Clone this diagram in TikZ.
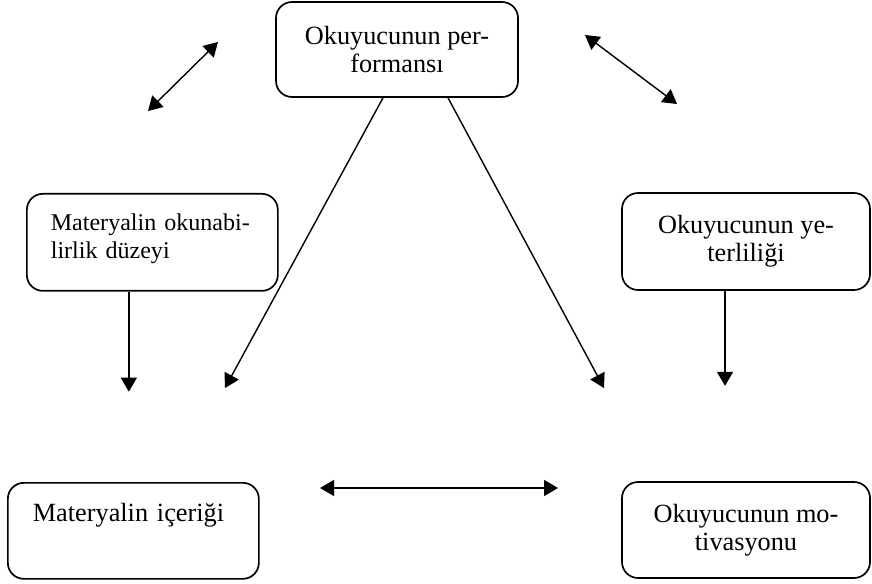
\documentclass[tikz,border=0pt]{standalone}
\usepackage{fontspec}
\setmainfont{Liberation Serif}
\usetikzlibrary{arrows.meta}

\begin{document}
\begin{tikzpicture}[line width=1pt,
        box/.style = {draw, rounded corners=0.4cm,
            line width=1.2pt, inner sep=0pt,
            align=center,
            minimum width=6.2cm,
            font=\fontsize{18.7}{20}\selectfont},
        leftbox/.style = {box, anchor=north west,
            align=left, minimum width=0cm,
            inner xsep=0.6cm, text width=5.075cm},
        arr/.style = {-{Triangle[length=0.35cm,width=0.4cm]}},
        twoway/.style = {{Triangle[length=0.35cm,width=0.4cm]}-{Triangle[length=0.35cm,width=0.4cm]}}]

    \useasboundingbox (0,0) rectangle (21.8,14.575);

    % Top box
    \node[box, minimum width=6.05cm, minimum height=2.375cm]
        (perf) at (9.925,13.3375) {Okuyucunun per-\\formansı};

    % Left box
    \node[leftbox, text height=0.925cm, text depth=1.5cm,
        font=\fontsize{17.1}{20}\selectfont]
        (okun) at (0.65,9.75) {Materyalin okunabi-\\lirlik düzeyi};

    % Right box
    \node[box, minimum height=2.425cm]
        (yet) at (18.65,8.5375) {Okuyucunun ye-\\terliliği};

    % Bottom left box
    \node[leftbox, text width=5.025cm, inner xsep=0.625cm,
        text height=0.975cm, text depth=1.425cm]
        (icer) at (0.175,2.525) {Materyalin içeriği};

    % Bottom right box
    \node[box, minimum height=2.4cm]
        (mot) at (18.65,1.325) {Okuyucunun mo-\\tivasyonu};

    % Free arrow ends
    \coordinate (okunStart) at ([xshift=-0.5875cm]okun.south);
    \coordinate (okunEnd) at ([yshift=-2.5cm]okunStart);
    \coordinate (yetStart) at ([xshift=-0.525cm]yet.south);
    \coordinate (yetEnd) at ([yshift=-2.375cm]yetStart);
    \coordinate (perfL) at (5.625,4.875);
    \coordinate (perfR) at (15.1,4.875);
    \coordinate (midL) at (8.0,2.375);
    \coordinate (midR) at (13.95,2.375);
    \coordinate (tlA) at (3.7,11.8);
    \coordinate (tlB) at (5.45,13.525);
    \coordinate (trA) at (14.625,13.7);
    \coordinate (trB) at (16.925,11.975);

    % Arrows
    \draw[arr] (okunStart) -- (okunEnd);
    \draw[arr] (yetStart) -- (yetEnd);
    \draw[arr] ([xshift=-0.35cm]perf.south) -- (perfL);
    \draw[arr] ([xshift=1.275cm]perf.south) -- (perfR);

    % Double arrows
    \draw[twoway] (midL) -- (midR);
    \draw[twoway] (tlA) -- (tlB);
    \draw[twoway] (trA) -- (trB);

\end{tikzpicture}
\end{document}
